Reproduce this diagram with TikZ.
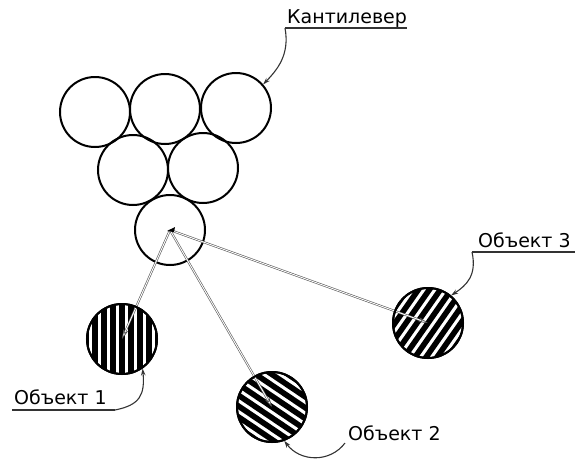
\documentclass[tikz,border=0pt]{standalone}
\usepackage{fontspec}
\setmainfont{DejaVu Sans}
\usetikzlibrary{arrows.meta}
% striped filling of a round node: #1 node name, #2 stripe angle
\newcommand\stripedisc[2]{%
  \begin{scope}
    \clip (#1.center) circle (35pt);
    \begin{scope}[shift={(#1.center)}, rotate=#2]
      \foreach \k in {-45,-36,...,45}
        \draw[line width=5.6pt] (-60pt,\k pt) -- (60pt,\k pt);
    \end{scope}
  \end{scope}}
\begin{document}
\begin{tikzpicture}[x=1pt,y=-1pt,
  ball/.style={circle, draw=black, line width=2pt, minimum size=70pt, inner sep=0pt},
  ray/.style={draw=black!65, line width=0.6pt, double=white, double distance=0.9pt,
      -{Stealth[open, fill=white, color=black!70, length=10pt, width=5pt]}},
  leader/.style={draw=black!80, line width=1.1pt, -{Stealth[length=7pt, width=4.5pt]}},
  caption/.style={anchor=base west, inner sep=0pt, font=\fontsize{19}{22}\selectfont},
  rule/.style={draw=black!80, line width=1.4pt}]
\useasboundingbox (0,0) rectangle (576,464);

% cantilever tip array
\node[ball] (a1) at (95,112) {};
\node[ball] (a2) at (165,109) {};
\node[ball] (a3) at (236,108) {};
\node[ball] (a4) at (133,170) {};
\node[ball] (a5) at (203,168) {};
\node[ball] (a6) at (170,230) {};

% hatched objects
\node[ball] (o1) at (122,339) {};
\node[ball] (o2) at (272,407) {};
\node[ball] (o3) at (428,323) {};
\stripedisc{o1}{90}
\stripedisc{o2}{-34}
\stripedisc{o3}{55}

% rays from the cantilever to the objects
\draw[ray] (a6.center) -- (o1.center);
\draw[ray] (a6.center) -- (o2.center);
\draw[ray] (a6.center) -- (o3.center);
\fill[black] (a6.center) ++(-3,1) -- ++(8,-4) -- ++(-1,5) -- cycle;

% redraw the outlines of the objects over the stripes
\foreach \o in {o1,o2,o3}
  \draw[line width=2pt] (\o.center) circle (35pt);

% captions with underlines and leaders
\node[caption] (tc) at (287,23) {Кантилевер};
\coordinate (tcl) at (285,28);
\draw[rule] (tcl) -- (407,28);
\draw[leader] (tcl) .. controls (290,55) and (277,70) .. (a3.41);

\node[caption] (t3) at (478,247) {Объект 3};
\coordinate (t3l) at (472,252);
\draw[rule] (t3l) -- (575,252);
\draw[leader] (t3l) .. controls (477,275) and (467,285) .. (o3.50);

\node[caption] (t2) at (348,440) {Объект 2};
\coordinate (t2l) at (345,443);
\draw[leader] (t2l) .. controls (330,463) and (300,462) .. (o2.-70);

\node[caption] (t1) at (14,404) {Объект 1};
\coordinate (t1l) at (115,410);
\draw[rule] (12,410) -- (t1l);
\draw[leader] (t1l) .. controls (140,405) and (145,395) .. (o1.-55);
\end{tikzpicture}
\end{document}
